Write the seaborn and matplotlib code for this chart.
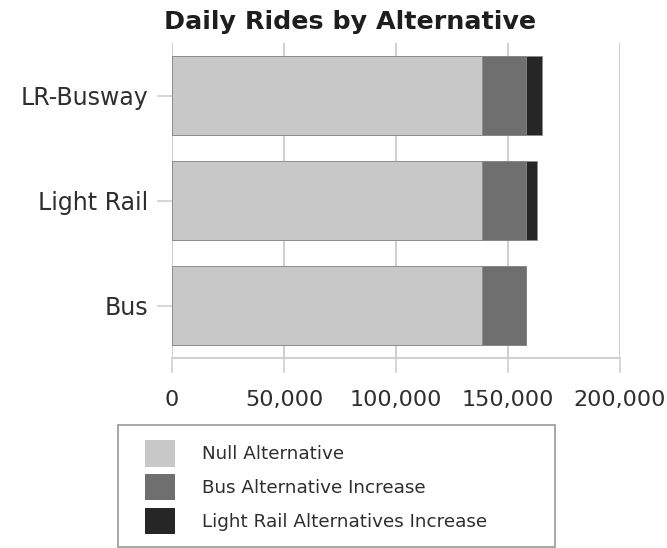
import matplotlib
matplotlib.use("Agg")
import matplotlib.pyplot as plt
from matplotlib.patches import Patch, Rectangle
from matplotlib.ticker import FuncFormatter
import pandas as pd
import seaborn as sns

# Daily rides for each transit alternative
alternatives = ["LR-Busway", "Light Rail", "Bus"]
null_rides = [138300, 138300, 138300]
bus_increase = [19700, 19700, 19700]
light_rail_increase = [7000, 4800, 0]

series_names = ["Null Alternative", "Bus Alternative Increase",
                "Light Rail Alternatives Increase"]
series_colors = ["#c8c8c8", "#6f6f6f", "#262626"]
x_ticks = [0, 50000, 100000, 150000, 200000]

df = pd.DataFrame({
    "alternative": alternatives,
    "null": null_rides,
    "bus": bus_increase,
    "lr": light_rail_increase,
})
df["null_bus"] = df["null"] + df["bus"]
df["total"] = df["null_bus"] + df["lr"]

sns.set_theme(style="white")
plt.rcParams["font.family"] = ["DejaVu Sans"]
text_color = "#2e2e2e"
grid_color = "#cfcfcf"

W, H = 667, 548
fig = plt.figure(figsize=(W / 100, H / 100), dpi=100)
ax = fig.add_axes([172 / W, 1 - 358 / H, 448 / W, 315 / H])

# stacked bars: draw cumulative totals back to front
for col, color in zip(["total", "null_bus", "null"], series_colors[::-1]):
    sns.barplot(data=df, x=col, y="alternative", order=alternatives,
                color=color, width=0.76, saturation=1, ax=ax,
                edgecolor="#8a8a8a", linewidth=0.6, zorder=3)

ax.set_xlim(0, 200000)
ax.set_ylim(2.5, -0.5)
ax.set_xticks(x_ticks)
ax.xaxis.set_major_formatter(FuncFormatter(lambda v, p: f"{int(v):,}"))
ax.set_xlabel("")
ax.set_ylabel("")

ax.grid(axis="x", color=grid_color, linewidth=1.4, zorder=0)
ax.grid(axis="y", visible=False)
for side in ["top", "right", "left"]:
    ax.spines[side].set_visible(False)
ax.spines["bottom"].set_color(grid_color)
ax.spines["bottom"].set_linewidth(1.4)

ax.tick_params(axis="x", length=11, width=1.2, color=grid_color, pad=12,
               labelsize=16, labelcolor=text_color, bottom=True)
ax.tick_params(axis="y", length=11, width=1.2, color=grid_color, pad=6,
               labelsize=17, labelcolor=text_color, left=True)

fig.text(350 / W, 1 - 22 / H, "Daily Rides by Alternative", ha="center",
         va="center", fontsize=18.3, fontweight="bold", color="#1e1e1e")

# legend box under the chart
fig.patches.append(Rectangle((118 / W, 1 - 547 / H), 437 / W, 122 / H,
                             transform=fig.transFigure, fill=False,
                             edgecolor="#a0a0a0", linewidth=1.3))
handles = [Patch(facecolor=c, edgecolor="none") for c in series_colors]
fig.legend(handles, series_names, loc="upper left",
           bbox_to_anchor=(145 / W, 1 - 440 / H), frameon=False,
           borderaxespad=0, borderpad=0, fontsize=13.2,
           handlelength=1.63, handleheight=1.85, handletextpad=1.5,
           labelspacing=0.4, labelcolor=text_color)

fig.savefig("out.png", dpi=100)
